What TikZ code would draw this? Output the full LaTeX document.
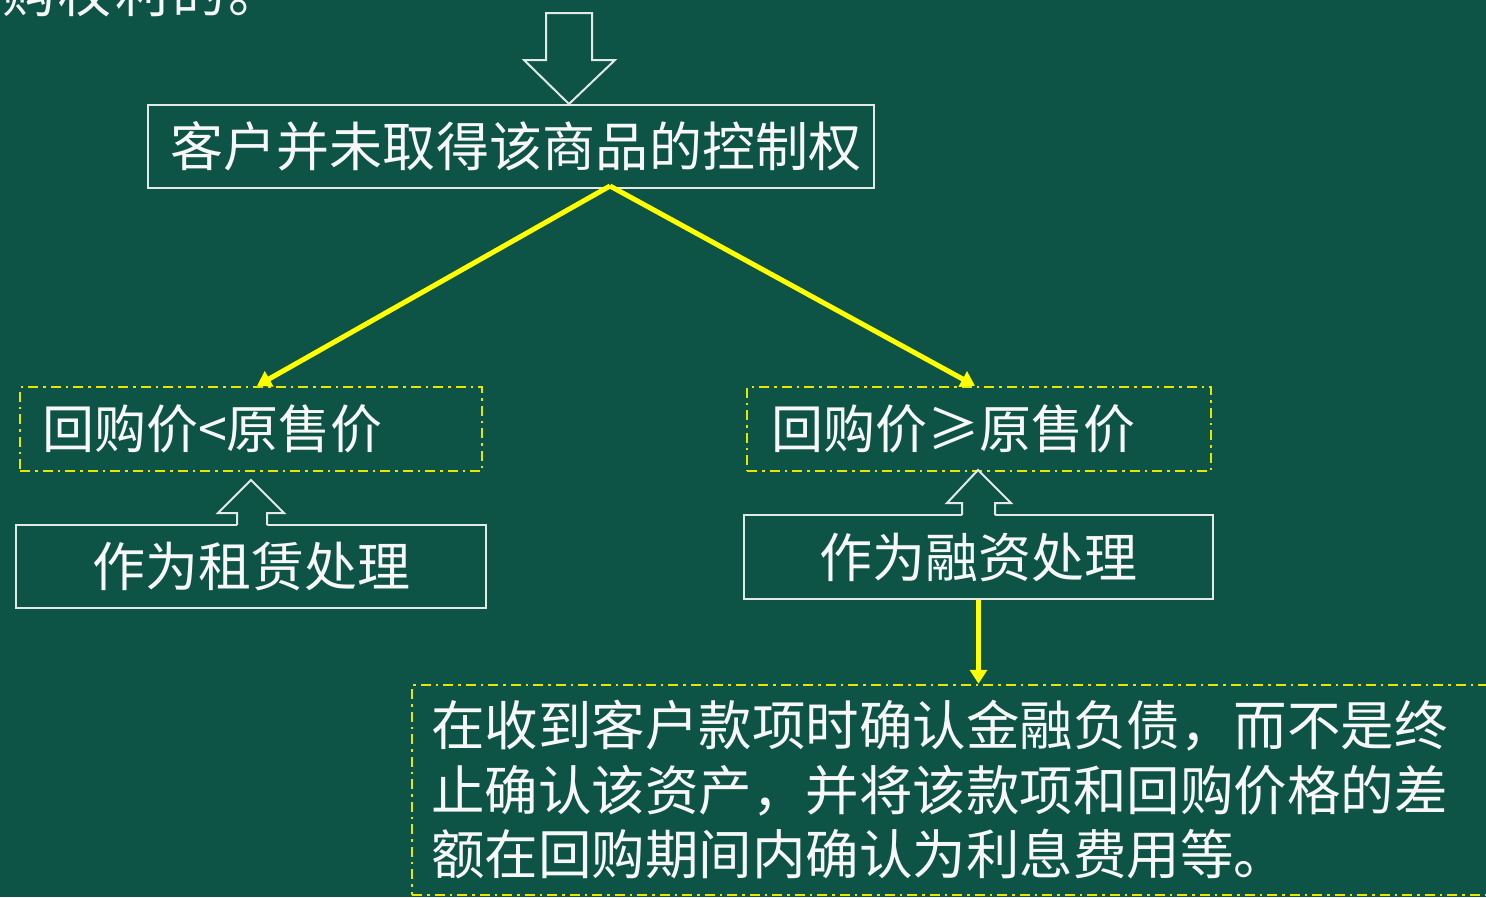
\documentclass[tikz,border=0pt]{standalone}
\usepackage{fontspec}
\newfontfamily\cjk{Noto Sans CJK SC}
\usetikzlibrary{arrows.meta,calc}
\definecolor{bg}{HTML}{0D5446}
\definecolor{ln}{HTML}{E2E9E6}
\definecolor{yl}{HTML}{FFFF00}
\definecolor{dyl}{HTML}{E6E600}
\definecolor{tx}{HTML}{F7F7F7}
\newcommand\gapp{\hskip0pt plus1fil minus1fil\relax}
\begin{document}
\begin{tikzpicture}[x=1pt,y=-1pt,
  txt/.style={text=tx,font=\cjk\fontsize{#1}{#1}\selectfont},
  solidbox/.style={draw=ln,line width=2pt,inner sep=0pt,text=tx},
  dashbox/.style={draw=dyl,line width=2.5pt,dash pattern=on 10pt off 5pt on 2.5pt off 5pt},
  yarrow/.style={draw=yl,line width=5pt,-{Triangle[length=14pt,width=17pt]}},
  hollow/.style={draw=ln,line width=2pt},
]
\useasboundingbox (0,0) rectangle (1486,897);
\clip (0,0) rectangle (1486,897);
\fill[bg] (0,0) rectangle (1486,897);

% partially visible text at top left
\node[txt=53,anchor=base west,inner sep=0pt] (top) at (-54.5,12)
  {\hbox to 336pt{回\gapp 购\gapp 权\gapp 利\gapp 的\gapp 。}};

% top hollow down arrow
\filldraw[hollow,fill=bg] (546,13) -- (592,13) -- (592,60) -- (615,60) -- (569,104) -- (524,60) -- (546,60) -- cycle;

% main box
\node[solidbox,txt=53,minimum width=726pt,minimum height=83pt] (b1) at (511,146.5)
  {\kern10pt\hbox to 692pt{客\gapp 户\gapp 并\gapp 未\gapp 取\gapp 得\gapp 该\gapp 商\gapp 品\gapp 的\gapp 控\gapp 制\gapp 权}};

% dashed condition boxes
\node[dashbox,txt=52,inner xsep=22pt,inner ysep=0pt,text width=418pt,align=left,minimum height=84pt] (d1) at (251,429) {回购价<原售价};
\node[dashbox,txt=52,inner xsep=24pt,inner ysep=0pt,text width=416pt,align=left,minimum height=84pt] (d2) at (979,429) {回购价≥原售价};

% treatment boxes
\node[solidbox,txt=53,minimum width=470pt,minimum height=83pt] (b2) at (251,566.5) {作为租赁处理};
\node[solidbox,txt=53,minimum width=469pt,minimum height=84pt] (b3) at (978.5,557) {作为融资处理};

% hollow up arrows into the condition boxes
\fill[bg] (237,527) -- (237,513) -- (218,513) -- (251,480) -- (284,513) -- (267,513) -- (267,527) -- cycle;
\draw[hollow] (237,525) -- (237,513) -- (218,513) -- (251,480) -- (284,513) -- (267,513) -- (267,525);
\fill[bg] (962,517) -- (962,503) -- (947,503) -- (978,470) -- (1011,503) -- (995,503) -- (995,517) -- cycle;
\draw[hollow] (962,515) -- (962,503) -- (947,503) -- (978,470) -- (1011,503) -- (995,503) -- (995,515);

% bottom explanation box
\node[dashbox,text=tx,inner xsep=19pt,inner ysep=0pt,text width=1070pt,align=left,minimum height=210pt,font=\cjk\fontsize{53.5}{64.5}\selectfont] (bb) at (966,790)
{在收到客户款项时确认金融负债，而不是终\\止确认该资产，并将该款项和回购价格的差\\额在回购期间内确认为利息费用等。};

% yellow connectors
\coordinate (s) at (610,186);
\draw[yarrow] (s) -- ($(d1.north)+(6,0)$);
\draw[yarrow] (s) -- ($(d2.north)+(-4,0)$);
\draw[yarrow] (b3.south) -- (b3.south |- bb.north);
\end{tikzpicture}
\end{document}
